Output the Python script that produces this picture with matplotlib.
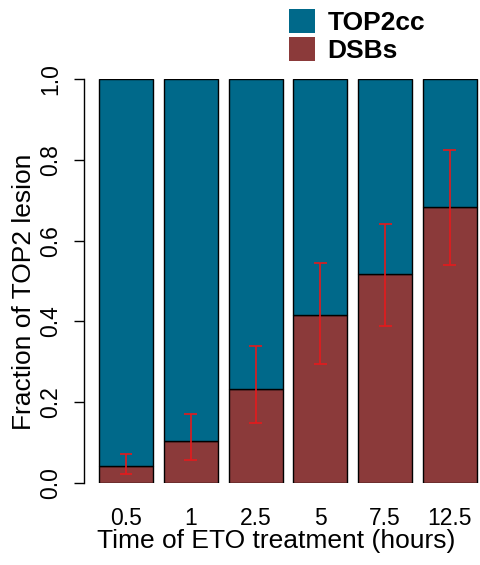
import numpy as np
import matplotlib
matplotlib.use("Agg")
import matplotlib.pyplot as plt
from matplotlib.patches import Patch

plt.rcParams["font.family"] = ["Liberation Sans", "DejaVu Sans"]

times = ["0.5", "1", "2.5", "5", "7.5", "12.5"]
dsb = [0.042, 0.104, 0.233, 0.416, 0.517, 0.683]
err_hi = [0.072, 0.171, 0.339, 0.545, 0.641, 0.824]
err_lo = [0.022, 0.057, 0.149, 0.295, 0.389, 0.540]

TEAL = "#00698a"
MAROON = "#8b3a3a"

fig = plt.figure(figsize=(4.8, 5.65), dpi=100)
ax = fig.add_axes([94 / 480, 82 / 565, 385 / 480, 404 / 565])

x = np.arange(len(times))
dsb = np.array(dsb)
top2 = 1 - dsb
ax.bar(x, dsb, width=0.833, color=MAROON, edgecolor="black", linewidth=1.0)
ax.bar(x, top2, bottom=dsb, width=0.833, color=TEAL, edgecolor="black",
       linewidth=1.0)
ax.vlines(x, err_lo, err_hi, color="#e41a1c", linewidth=1.2)
ax.hlines(err_lo, x - 0.1, x + 0.1, color="#e41a1c", linewidth=1.2)
ax.hlines(err_hi, x - 0.1, x + 0.1, color="#e41a1c", linewidth=1.2)

ax.set_xlim(-0.494, 5.45)
ax.set_ylim(0, 1)
for s in ("top", "right", "bottom"):
    ax.spines[s].set_visible(False)
ax.spines["left"].set_position(("outward", 7))
ax.spines["left"].set_linewidth(1.0)
ax.set_yticks(np.arange(0, 1.01, 0.2))
ax.set_yticklabels([f"{v:.1f}" for v in np.arange(0, 1.01, 0.2)],
                   rotation=90, va="center", fontsize=16.5)
ax.tick_params(axis="y", length=7, width=1.0, pad=9)
ax.set_xticks(x)
ax.set_xticklabels(times, fontsize=16.5)
ax.tick_params(axis="x", length=0, pad=17)
ax.set_xlabel("Time of ETO treatment (hours)", fontsize=19)
ax.set_ylabel("Fraction of TOP2 lesion", fontsize=19)
ax.xaxis.set_label_coords(0.474, -0.115)
ax.yaxis.set_label_coords(-0.15, 0.474)

handles = [Patch(facecolor=TEAL, edgecolor="none", label="TOP2cc"),
           Patch(facecolor=MAROON, edgecolor="none", label="DSBs")]
fig.legend(handles=handles, loc="upper left",
           bbox_to_anchor=(289 / 480, 1 - 9 / 565),
           frameon=False, prop={"weight": "bold", "size": 19},
           handlelength=1.0, handleheight=1.0, handletextpad=0.45,
           labelspacing=0.1, borderpad=0, borderaxespad=0)

fig.savefig("out.png", dpi=100)
